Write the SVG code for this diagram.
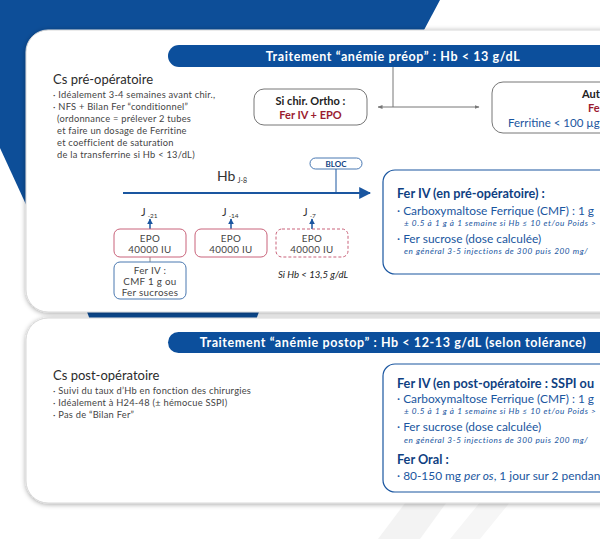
<svg xmlns="http://www.w3.org/2000/svg" width="600" height="539" viewBox="0 0 600 539">
<defs>
<filter id="sh" x="-10%" y="-10%" width="130%" height="130%">
<feDropShadow dx="0" dy="1" stdDeviation="2.5" flood-color="#000" flood-opacity="0.35"/>
</filter>
<marker id="ab" viewBox="0 0 10 10" refX="9" refY="5" markerWidth="4" markerHeight="4" orient="auto-start-reverse"><path d="M0,0 L10,5 L0,10 z" fill="#1a56a0"/></marker>
<marker id="ag" viewBox="0 0 10 10" refX="9" refY="5" markerWidth="5" markerHeight="5" orient="auto-start-reverse"><path d="M0,1 L10,5 L0,9 z" fill="#777"/></marker>
<marker id="at" viewBox="0 0 10 10" refX="9" refY="5" markerWidth="6" markerHeight="6" orient="auto"><path d="M0,0 L10,5 L0,10 z" fill="#1a56a0"/></marker>
</defs>
<style>
text{font-family:Lato,"Open Sans","DejaVu Sans",sans-serif}
.card{fill:#fff;stroke:#d8d8d8;stroke-width:1;filter:url(#sh)}
.pill{fill:#0c4f9c}
.pt{fill:#fff;font-weight:bold;font-size:12.5px;letter-spacing:0.6px;text-anchor:middle}
.h{fill:#2b2b2b;font-size:13px}
.b{fill:#444;font-size:9.3px;letter-spacing:0.25px}
.gbox{fill:#fff;stroke:#777;stroke-width:1}
.epo{fill:#fff;stroke:#c9637a;stroke-width:1}
.epod{fill:#fff;stroke:#c9637a;stroke-width:1;stroke-dasharray:3 2}
.fbox{fill:#fff;stroke:#4a78b0;stroke-width:1}
.big{fill:#fff;stroke:#1a56a0;stroke-width:1.2}
.sm{fill:#444;font-size:9.8px;letter-spacing:0.3px;text-anchor:middle}
.bt{fill:#0f3f82;font-weight:bold;font-size:12.7px}
.bl{fill:#1a56a0;font-size:11.9px}
.it{fill:#1a56a0;font-size:8.2px;font-style:italic;letter-spacing:0.6px}
.con{stroke:#777;stroke-width:1;fill:none}
</style>
<rect width="600" height="539" fill="#fff"/>
<g id="background">
<polygon points="0,0 440,0 400,75 40,235 0,148" fill="#0d4e98"/>
<polygon points="86,309 260,309 256,320 90,320" fill="#0d4e98"/>
<polygon points="378,539 420,539 470,470 430,470" fill="#f3f3f3"/>
<polygon points="450,539 480,539 520,490 490,490" fill="#f6f6f6"/>
<polygon points="560,330 600,330 600,318 568,318" fill="#f0f0f0"/>
</g>
<g id="card1"><rect class="card" x="26" y="30" width="640" height="282" rx="22"/></g>
<g id="card2"><rect class="card" x="26" y="318" width="640" height="185" rx="22"/></g>

<g id="connectors">
<line class="con" x1="393" y1="67" x2="393" y2="107"/>
<line class="con" x1="378" y1="107" x2="479" y2="107" marker-start="url(#ag)" marker-end="url(#ag)"/>
<line x1="123" y1="193" x2="370" y2="193" stroke="#1a56a0" stroke-width="2" marker-end="url(#at)"/>
<line x1="336" y1="169" x2="336" y2="193" stroke="#1a56a0" stroke-width="1"/>
<line x1="150" y1="229" x2="150" y2="219" stroke="#1a56a0" stroke-width="1.5" marker-end="url(#ab)"/>
<line x1="231" y1="229" x2="231" y2="219" stroke="#1a56a0" stroke-width="1.5" marker-end="url(#ab)"/>
<line x1="312" y1="229" x2="312" y2="219" stroke="#1a56a0" stroke-width="1.5" marker-end="url(#ab)"/>
<line x1="150" y1="257" x2="150" y2="262" stroke="#888" stroke-width="1"/>
</g>

<g id="header-preop">
<rect class="pill" x="168" y="45" width="460" height="22" rx="11"/>
<text class="pt" x="393" y="60.5">Traitement “anémie préop” : Hb &lt; 13 g/dL</text>
</g>

<g id="cs-preop">
<text class="h" x="53" y="84">Cs pré-opératoire</text>
<text class="b" x="53" y="98">· Idéalement 3-4 semaines avant chir.,</text>
<text class="b" x="53" y="110">· NFS + Bilan Fer “conditionnel”</text>
<text class="b" x="57" y="122">(ordonnance = prélever 2 tubes</text>
<text class="b" x="57" y="134">et faire un dosage de Ferritine</text>
<text class="b" x="57" y="146">et coefficient de saturation</text>
<text class="b" x="57" y="158">de la transferrine si Hb &lt; 13/dL)</text>
</g>

<g id="ortho">
<rect class="gbox" x="254" y="89" width="113" height="36" rx="10"/>
<text x="310.5" y="105" text-anchor="middle" font-weight="bold" font-size="11" fill="#222">Si chir. Ortho :</text>
<text x="310.5" y="119" text-anchor="middle" font-weight="bold" font-size="11" fill="#9b1b30">Fer IV + EPO</text>
</g>

<g id="autres">
<rect class="gbox" x="492" y="82" width="160" height="51" rx="11"/>
<text x="582" y="98" font-weight="bold" font-size="11" fill="#222">Aut</text>
<text x="588" y="112" font-weight="bold" font-size="11" fill="#9b1b30">Fe</text>
<text x="508" y="127" font-size="11.5" fill="#1a56a0">Ferritine &lt; 100 µg</text>
</g>

<g id="timeline">
<text x="217" y="181" font-size="14" fill="#333">Hb<tspan font-size="7" dx="2" dy="2">J-8</tspan></text>
<text x="141" y="216" font-size="11" fill="#333">J<tspan font-size="6.5" dx="2" dy="2">-21</tspan></text>
<text x="222" y="216" font-size="11" fill="#333">J<tspan font-size="6.5" dx="2" dy="2">-14</tspan></text>
<text x="303" y="216" font-size="11" fill="#333">J<tspan font-size="6.5" dx="2" dy="2">-7</tspan></text>
</g>

<g id="bloc">
<rect x="310" y="158" width="52" height="11" rx="5.5" fill="#fff" stroke="#1a56a0" stroke-width="0.8"/>
<text x="336" y="166.8" text-anchor="middle" font-weight="bold" font-size="8" fill="#0f3f82">BLOC</text>
</g>

<g id="epo1">
<rect class="epo" x="114" y="229" width="72" height="28" rx="6"/>
<text class="sm" x="150" y="242">EPO</text>
<text class="sm" x="150" y="253">40000 IU</text>
</g>
<g id="epo2">
<rect class="epo" x="195" y="229" width="72" height="28" rx="6"/>
<text class="sm" x="231" y="242">EPO</text>
<text class="sm" x="231" y="253">40000 IU</text>
</g>
<g id="epo3">
<rect class="epod" x="276" y="229" width="72" height="28" rx="6"/>
<text class="sm" x="312" y="242">EPO</text>
<text class="sm" x="312" y="253">40000 IU</text>
</g>
<g id="si-hb">
<text x="278" y="278" font-size="9.6" font-style="italic" fill="#222">Si Hb &lt; 13,5 g/dL</text>
</g>
<g id="feriv-small">
<rect class="fbox" x="114" y="262" width="72" height="37" rx="6"/>
<text class="sm" x="150" y="274">Fer IV :</text>
<text class="sm" x="150" y="285">CMF 1 g ou</text>
<text class="sm" x="150" y="296">Fer sucroses</text>
</g>

<g id="feriv-preop">
<rect class="big" x="383" y="170" width="260" height="104" rx="12"/>
<text class="bt" x="397" y="198">Fer IV (en pré-opératoire) :</text>
<text class="bl" x="397" y="215">· Carboxymaltose Ferrique (CMF) : 1 g</text>
<text class="it" x="404" y="226">± 0.5 à 1 g à 1 semaine si Hb ≤ 10 et/ou Poids &gt;</text>
<text class="bl" x="397" y="243">· Fer sucrose (dose calculée)</text>
<text class="it" x="404" y="254">en général 3-5 injections de 300 puis 200 mg/</text>
</g>

<g id="header-postop">
<rect class="pill" x="168" y="332" width="460" height="21" rx="10.5"/>
<text class="pt" x="393" y="347">Traitement “anémie postop” : Hb &lt; 12-13 g/dL (selon tolérance)</text>
</g>

<g id="cs-postop">
<text class="h" x="53" y="380">Cs post-opératoire</text>
<text class="b" x="53" y="394">· Suivi du taux d’Hb en fonction des chirurgies</text>
<text class="b" x="53" y="406">· Idéalement à H24-48 (± hémocue SSPI)</text>
<text class="b" x="53" y="418">· Pas de “Bilan Fer”</text>
</g>

<g id="feriv-postop">
<rect class="big" x="383" y="364" width="260" height="128" rx="12"/>
<text class="bt" x="397" y="388">Fer IV (en post-opératoire : SSPI ou</text>
<text class="bl" x="397" y="403">· Carboxymaltose Ferrique (CMF) : 1 g</text>
<text class="it" x="404" y="414">± 0.5 à 1 g à 1 semaine si Hb ≤ 10 et/ou Poids &gt;</text>
<text class="bl" x="397" y="431">· Fer sucrose (dose calculée)</text>
<text class="it" x="404" y="443">en général 3-5 injections de 300 puis 200 mg/</text>
<text class="bt" x="397" y="464">Fer Oral :</text>
<text class="bl" x="397" y="480">· 80-150 mg <tspan font-style="italic">per os</tspan>, 1 jour sur 2 pendan</text>
</g>
</svg>
